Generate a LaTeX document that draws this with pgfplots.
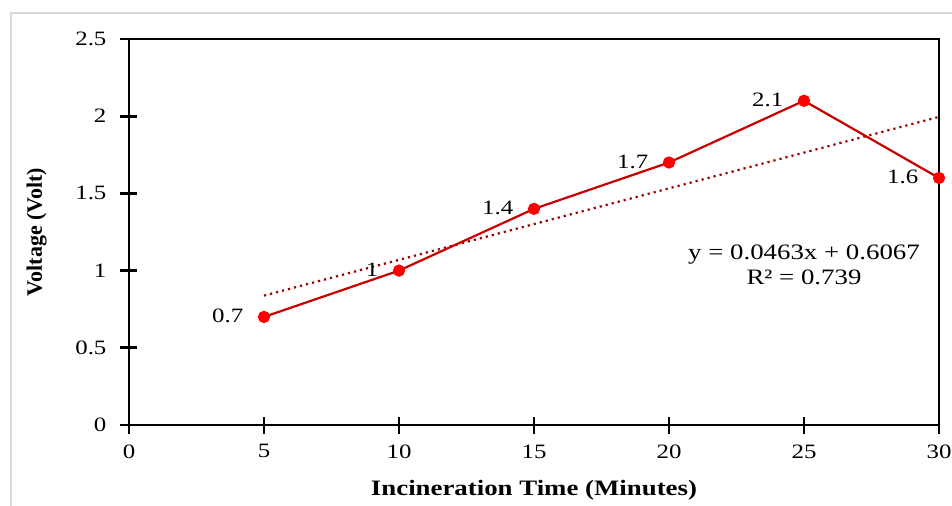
\documentclass[border=0pt]{standalone}
\usepackage{pgfplots}
\pgfplotsset{compat=1.18}
\usepackage{fontspec}
\setmainfont{Liberation Serif}[FakeStretch=1.22]
\newfontfamily\ylabfont{Liberation Serif}
\definecolor{linered}{RGB}{200,0,0}
\definecolor{markred}{RGB}{255,0,0}
\definecolor{trendred}{RGB}{160,0,0}
\definecolor{framegray}{RGB}{217,217,217}
\begin{document}
\begin{tikzpicture}
\begin{axis}[
  scale only axis,
  width=405pt, height=193pt,
  xmin=0, xmax=30, ymin=0, ymax=2.5,
  xtick={0,5,...,30}, ytick={0,0.5,...,2.5},
  yticklabels={0,0.5,1,1.5,2,2.5},
  xtick pos=bottom, ytick pos=left,
  tick align=center,
  major tick length=8.5pt,
  axis line style={line width=1.4pt},
  every tick/.style={black, line width=1.4pt},
  tick label style={font=\fontsize{10.2}{11}\selectfont},
  /pgf/number format/assume math mode=true,
  xticklabel style={yshift=-2pt},
  yticklabel style={xshift=-3.5pt},
  xlabel={\textbf{Incineration Time (Minutes)}},
  ylabel={\ylabfont\bfseries Voltage (Volt)},
  xlabel style={font=\fontsize{11}{12}\selectfont, at={(axis description cs:0.5,-0.168)}, anchor=center},
  ylabel style={font=\fontsize{11}{12}\selectfont, at={(axis description cs:-0.114,0.5)}, anchor=center},
  clip=false,
]
\addplot[trendred, dotted, line width=1.1pt] coordinates {(5,0.8382) (30,1.9957)};
\addplot[linered, line width=1.1pt, mark=*, mark size=2.5pt,
  mark options={fill=markred, draw=markred},
  nodes near coords,
  point meta=explicit symbolic,
  every node near coord/.style={anchor=east, xshift=-6.5pt, yshift=0.5pt, font=\fontsize{10.2}{11}\selectfont, black}]
  coordinates {(5,0.7) [0.7] (10,1) [1] (15,1.4) [1.4] (20,1.7) [1.7] (25,2.1) [2.1] (30,1.6) [1.6]};
\node[align=center, font=\fontsize{11}{12.5}\selectfont, inner sep=0pt] at (axis cs:25,1.04)
  {y = 0.0463x + 0.6067\\R² = 0.739};
\end{axis}
\draw[framegray, line width=0.6pt] (-59pt,-45pt) -- (-59pt,206pt) -- (420pt,206pt);
\pgfresetboundingbox
\useasboundingbox (-64.5pt,-40pt) rectangle (411.5pt,212.5pt);
\end{tikzpicture}
\end{document}
